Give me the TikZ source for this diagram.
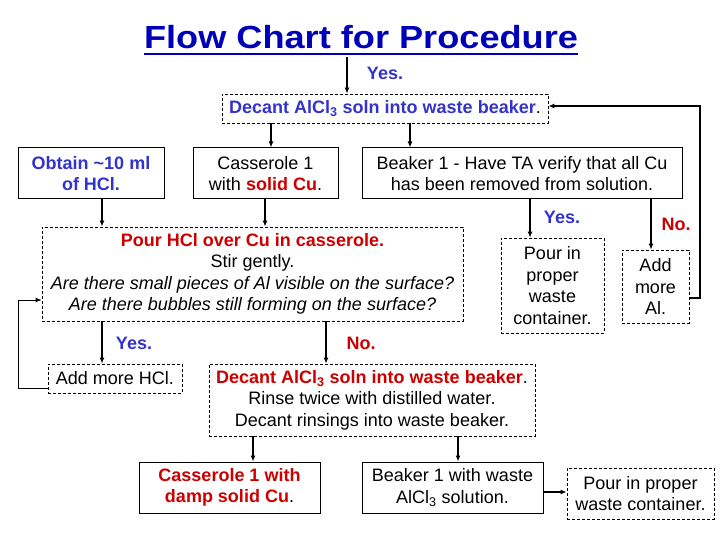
\documentclass[tikz,border=0pt]{standalone}
\usepackage{fontspec}
\setmainfont{Liberation Sans}
\usepackage{graphicx}
\usetikzlibrary{arrows.meta, positioning, calc}
\definecolor{titleblue}{RGB}{0, 0, 185}
\definecolor{textblue}{RGB}{51, 51, 204}
\definecolor{textred}{RGB}{204, 0, 0}

\begin{document}
\begin{tikzpicture}[x=1pt, y=-1pt,
    box/.style={rectangle, draw, line width=1pt, inner sep=0pt, align=center, font=\fontsize{18}{21.5}\selectfont},
    dbox/.style={box, line width=0.8pt, dash pattern=on 3pt off 2pt},
    arrow/.style={-{Latex[length=6pt, width=5pt]}, line width=1.5pt},
    yeslbl/.style={inner sep=0pt, font=\fontsize{18}{21.5}\selectfont\bfseries, text=textblue},
    nolbl/.style={yeslbl, text=textred}
]
\useasboundingbox (0,0) rectangle (720,540);

% title
\node[inner sep=0pt, anchor=base, font=\fontsize{32}{36}\selectfont\bfseries, text=titleblue] (title) at (361,49) {\scalebox{1.13}[1]{Flow Chart for Procedure}};
\draw[titleblue, line width=2.5pt] ([yshift=-5pt]title.base west) -- ([yshift=-5pt]title.base east);

% top row
\node[dbox, minimum width=326pt, minimum height=29pt] (dtop) at (385,108.5) {\textcolor{textblue}{\textbf{Decant AlCl\textsubscript{3} soln into waste beaker}}.};
\node[box, minimum width=146pt, minimum height=51pt] (obtain) at (91,173.5) {\textcolor{textblue}{\textbf{Obtain \textasciitilde10 ml}}\\\textcolor{textblue}{\textbf{of HCl.}}};
\node[box, minimum width=145pt, minimum height=51pt] (cass) at (265.5,173.5) {Casserole 1\\with \textcolor{textred}{\textbf{solid Cu}}.};
\node[box, minimum width=320pt, minimum height=51pt] (beaker) at (522,173.5) {Beaker 1 - Have TA verify that all Cu\\has been removed from solution.};

% middle row
\node[dbox, minimum width=421pt, minimum height=94pt] (pour) at (252.5,274) {\textcolor{textred}{\textbf{Pour HCl over Cu in casserole.}}\\Stir gently.\\\textit{Are there small pieces of Al visible on the surface?}\\\textit{Are there bubbles still forming on the surface?}};
\node[dbox, minimum width=103pt, minimum height=95pt] (waste1) at (552.5,285.5) {Pour in\\proper\\waste\\container.};
\node[dbox, minimum width=67pt, minimum height=73pt] (addal) at (655.5,286.5) {Add\\more\\Al.};

% lower rows
\node[dbox, minimum width=134pt, minimum height=29pt] (addhcl) at (115,378.5) {Add more HCl.};
\node[dbox, minimum width=326pt, minimum height=72pt] (dlow) at (372,400) {\textcolor{textred}{\textbf{Decant AlCl\textsubscript{3} soln into waste beaker}}.\\Rinse twice with distilled water.\\Decant rinsings into waste beaker.};
\node[box, minimum width=181pt, minimum height=51pt] (cassdamp) at (229.5,487.5) {\textcolor{textred}{\textbf{Casserole 1 with}}\\\textcolor{textred}{\textbf{damp solid Cu}}.};
\node[box, minimum width=181pt, minimum height=51pt] (beakerw) at (452.5,487.5) {Beaker 1 with waste\\AlCl\textsubscript{3} solution.};
\node[dbox, minimum width=147pt, minimum height=51pt] (waste2) at (640.5,493.5) {Pour in proper\\waste container.};

% labels
\node[yeslbl] (yes0) at (385,73) {Yes.};
\node[yeslbl] (yes1) at (562,217) {Yes.};
\node[nolbl] (no1) at (676,224) {No.};
\node[yeslbl] (yes2) at (134,343) {Yes.};
\node[nolbl] (no2) at (361,343) {No.};

% connectors
\coordinate (start) at (347,57);
\draw[arrow] (start) -- (start |- dtop.north);
\draw[arrow] (271,0 |- dtop.south) -- (271,0 |- cass.north);
\draw[arrow] (410,0 |- dtop.south) -- (410,0 |- beaker.north);
\draw[arrow] (102,0 |- obtain.south) -- (102,0 |- pour.north);
\draw[arrow] (265,0 |- cass.south) -- (265,0 |- pour.north);
\draw[arrow] (530,0 |- beaker.south) -- (530,0 |- waste1.north);
\draw[arrow] (651,0 |- beaker.south) -- (651,0 |- addal.north);
\draw[arrow, line width=1.8pt] (addal.east |- 0,298) -- (700,298) -- (700,106) -- (dtop.east |- 0,106);
\draw[arrow] (102,0 |- pour.south) -- (102,0 |- addhcl.north);
\draw[arrow] (326,0 |- pour.south) -- (326,0 |- dlow.north);
\draw[arrow, line width=1pt] (addhcl.west |- 0,388) -- (18,388) -- (18,300) -- (pour.west |- 0,300);
\draw[arrow] (253,0 |- dlow.south) -- (253,0 |- cassdamp.north);
\draw[arrow] (458,0 |- dlow.south) -- (458,0 |- beakerw.north);
\draw[arrow] (beakerw.east |- 0,492) -- (waste2.west |- 0,492);
\end{tikzpicture}
\end{document}
